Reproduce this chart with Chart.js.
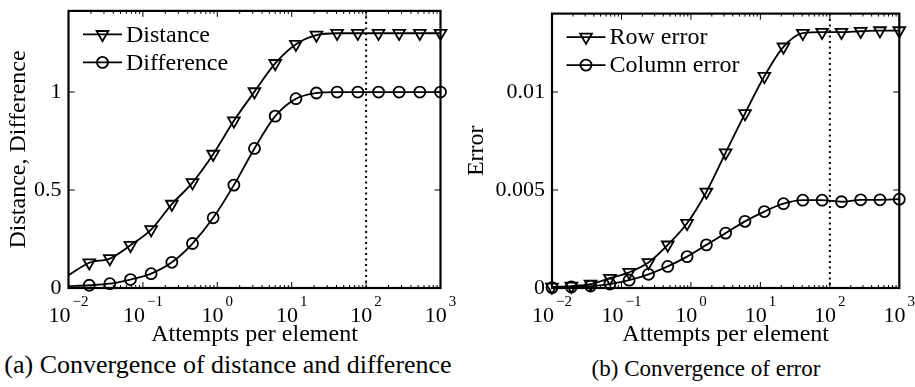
<!DOCTYPE html>
<html>
<head>
<meta charset="utf-8">
<script src="https://cdn.jsdelivr.net/npm/chart.js@4.4.1/dist/chart.umd.min.js"></script>
<style>
    html, body { margin: 0; padding: 0; background: #fff; }
    body { width: 915px; height: 387px; position: relative; overflow: hidden; font-family: "Liberation Serif", serif; color: #000; }
    .plot { position: absolute; top: 0; width: 457px; height: 350px; }
    .caption { position: absolute; white-space: nowrap; transform: translateX(-50%); line-height: 1; }
</style>
</head>
<body>
<div class="plot" style="left:0"><canvas id="chartA"></canvas></div>
<div class="plot" style="left:458px"><canvas id="chartB"></canvas></div>
<div class="caption" style="left:228px; top:352px; font-size:26px;">(a) Convergence of distance and difference</div>
<div class="caption" style="left:706px; top:357px; font-size:23px;">(b) Convergence of error</div>

<script>
const FONT = 'Liberation Serif';

// attempts per element (x)
const attempts = [0.01, 0.019, 0.0359, 0.0681, 0.129, 0.245, 0.464, 0.88, 1.67, 3.16, 6.0, 11.4, 21.5, 40.8, 77.4, 147, 278, 527, 1000];

// (a)
const distance   = [0.065, 0.129, 0.150, 0.218, 0.298, 0.428, 0.538, 0.683, 0.853, 1.002, 1.146, 1.244, 1.291, 1.300, 1.300, 1.300, 1.300, 1.300, 1.300];
const difference = [0.009, 0.014, 0.022, 0.043, 0.073, 0.131, 0.227, 0.358, 0.525, 0.712, 0.877, 0.966, 0.995, 1.000, 1.000, 1.000, 1.000, 1.000, 1.000];

// (b)
const rowError    = [0.00005, 0.0001, 0.0002, 0.0005, 0.0008, 0.0013, 0.0022, 0.0033, 0.0049, 0.0069, 0.0089, 0.0108, 0.0123, 0.0130, 0.01305, 0.01305, 0.0131, 0.01313, 0.01313];
const columnError = [0.00002, 0.00005, 0.0001, 0.0002, 0.0004, 0.0007, 0.0011, 0.0016, 0.0022, 0.0028, 0.0034, 0.0039, 0.0043, 0.00448, 0.00448, 0.0044, 0.0045, 0.0045, 0.00453];

// x tick labels are 10^e
const xTickExponents = [-2, -1, 0, 1, 2, 3];
const xTickLabels = ['\u22122', '\u22121', '0', '1', '2', '3'];
const markLine = 100;   // dotted vertical line

const TRI_R = 6.8;
const CIRC_R = 5.5;

Chart.defaults.font.family = FONT;
Chart.defaults.color = '#000';

function drawMarker(ctx, style, x, y) {
    ctx.beginPath();
    if (style === 'v') {
        ctx.moveTo(x, y + TRI_R);
        ctx.lineTo(x - TRI_R * 0.866, y - TRI_R / 2);
        ctx.lineTo(x + TRI_R * 0.866, y - TRI_R / 2);
        ctx.closePath();
    } else {
        ctx.arc(x, y, CIRC_R, 0, Math.PI * 2);
    }
    ctx.stroke();
}

const matAxes = {
    id: 'matAxes',
    beforeDatasetsDraw(chart) {
        const { ctx, chartArea: a, scales: { x } } = chart;
        const px = x.getPixelForValue(markLine);
        ctx.save();
        ctx.strokeStyle = '#000';
        ctx.lineWidth = 2;
        ctx.setLineDash([2, 3.5]);
        ctx.beginPath();
        ctx.moveTo(px, a.top);
        ctx.lineTo(px, a.bottom);
        ctx.stroke();
        ctx.restore();
    },
    afterDraw(chart) {
        const { ctx, chartArea: a, scales: { x, y } } = chart;
        ctx.save();
        ctx.strokeStyle = '#000';
        ctx.fillStyle = '#000';

        // tick marks inside the box
        ctx.lineWidth = 1;
        ctx.beginPath();
        xTickExponents.forEach((e, i) => {
            const base = Math.pow(10, e);
            const p = x.getPixelForValue(base);
            ctx.moveTo(p, a.bottom); ctx.lineTo(p, a.bottom - 6);
            ctx.moveTo(p, a.top); ctx.lineTo(p, a.top + 6);
            if (i < xTickExponents.length - 1) {
                for (let m = 2; m < 10; m++) {
                    const q = x.getPixelForValue(base * m);
                    ctx.moveTo(q, a.bottom); ctx.lineTo(q, a.bottom - 3);
                    ctx.moveTo(q, a.top); ctx.lineTo(q, a.top + 3);
                }
            }
        });
        y.ticks.forEach(t => {
            const p = y.getPixelForValue(t.value);
            ctx.moveTo(a.left, p); ctx.lineTo(a.left + 6, p);
            ctx.moveTo(a.right, p); ctx.lineTo(a.right - 6, p);
        });
        ctx.stroke();

        // box
        ctx.lineWidth = 2.2;
        ctx.strokeRect(a.left, a.top, a.right - a.left, a.bottom - a.top);

        // x tick labels 10^e
        ctx.textBaseline = 'alphabetic';
        ctx.textAlign = 'left';
        xTickExponents.forEach((e, i) => {
            const p = x.getPixelForValue(Math.pow(10, e));
            ctx.font = '22px "' + FONT + '"';
            const w1 = ctx.measureText('10').width;
            ctx.font = '15px "' + FONT + '"';
            const w2 = ctx.measureText(xTickLabels[i]).width;
            const x0 = p - (w1 + 2 + w2) / 2;
            ctx.font = '22px "' + FONT + '"';
            ctx.fillText('10', x0, a.bottom + 34);
            ctx.font = '15px "' + FONT + '"';
            ctx.fillText(xTickLabels[i], x0 + w1 + 2, a.bottom + 18);
        });

        // legend
        ctx.font = '24px "' + FONT + '"';
        ctx.textBaseline = 'middle';
        ctx.lineWidth = 1.8;
        chart.data.datasets.forEach((ds, i) => {
            const ly = a.top + 23.5 + i * 28;
            ctx.beginPath();
            ctx.moveTo(a.left + 14.5, ly);
            ctx.lineTo(a.left + 53.5, ly);
            ctx.stroke();
            drawMarker(ctx, ds.marker, a.left + 34, ly);
            ctx.fillText(ds.label, a.left + 57.5, ly + 1);
        });
        ctx.restore();
    }
};

function seriesDataset(label, values, marker, firstMarker) {
    const r = marker === 'v' ? TRI_R : CIRC_R;
    return {
        label: label,
        marker: marker,
        data: attempts.map((a, j) => ({ x: a, y: values[j] })),
        borderColor: '#000',
        borderWidth: 1.8,
        pointStyle: marker === 'v' ? 'triangle' : 'circle',
        rotation: marker === 'v' ? 180 : 0,
        pointRadius: values.map((v, j) => j < firstMarker ? 0 : r),
        pointBorderColor: '#000',
        pointBorderWidth: 1.8,
        pointBackgroundColor: 'rgba(0,0,0,0)',
        cubicInterpolationMode: 'monotone',
        fill: false,
        clip: false
    };
}

function makeChart(id, datasets, ylabel, ymax, step, areaLeft, padTop, padRight) {
    return new Chart(document.getElementById(id), {
        type: 'line',
        data: { datasets: datasets },
        options: {
            responsive: true,
            maintainAspectRatio: false,
            animation: false,
            events: [],
            layout: { padding: { left: 0, top: padTop, right: padRight, bottom: 0 } },
            plugins: { legend: { display: false }, tooltip: { enabled: false } },
            scales: {
                x: {
                    type: 'logarithmic',
                    min: 0.01,
                    max: 1000,
                    grid: { display: false, drawTicks: false },
                    border: { display: false },
                    ticks: { display: false },
                    title: {
                        display: true,
                        text: 'Attempts per element',
                        font: { family: FONT, size: 24 },
                        color: '#000',
                        padding: { top: 0, bottom: 1 }
                    },
                    afterFit: s => { s.height = 62; s.paddingLeft = 0; s.paddingRight = 0; }
                },
                y: {
                    type: 'linear',
                    min: 0,
                    max: ymax,
                    grid: { display: false, drawTicks: false },
                    border: { display: false },
                    ticks: {
                        stepSize: step,
                        includeBounds: false,
                        color: '#000',
                        font: { family: FONT, size: 22 },
                        padding: 7,
                        callback: v => String(+v.toFixed(4))
                    },
                    title: {
                        display: true,
                        text: ylabel,
                        font: { family: FONT, size: 24 },
                        color: '#000',
                        padding: { top: 4, bottom: 0 }
                    },
                    afterFit: s => { s.width = areaLeft; s.paddingTop = 0; s.paddingBottom = 0; }
                }
            }
        },
        plugins: [matAxes]
    });
}

makeChart('chartA', [
    seriesDataset('Distance', distance, 'v', 1),
    seriesDataset('Difference', difference, 'o', 1)
], 'Distance, Difference', 1.414, 0.5, 68.5, 10.9, 16.5);

makeChart('chartB', [
    seriesDataset('Row error', rowError, 'v', 0),
    seriesDataset('Column error', columnError, 'o', 0)
], 'Error', 0.014, 0.005, 94, 13.6, 15.7);
</script>
</body>
</html>
